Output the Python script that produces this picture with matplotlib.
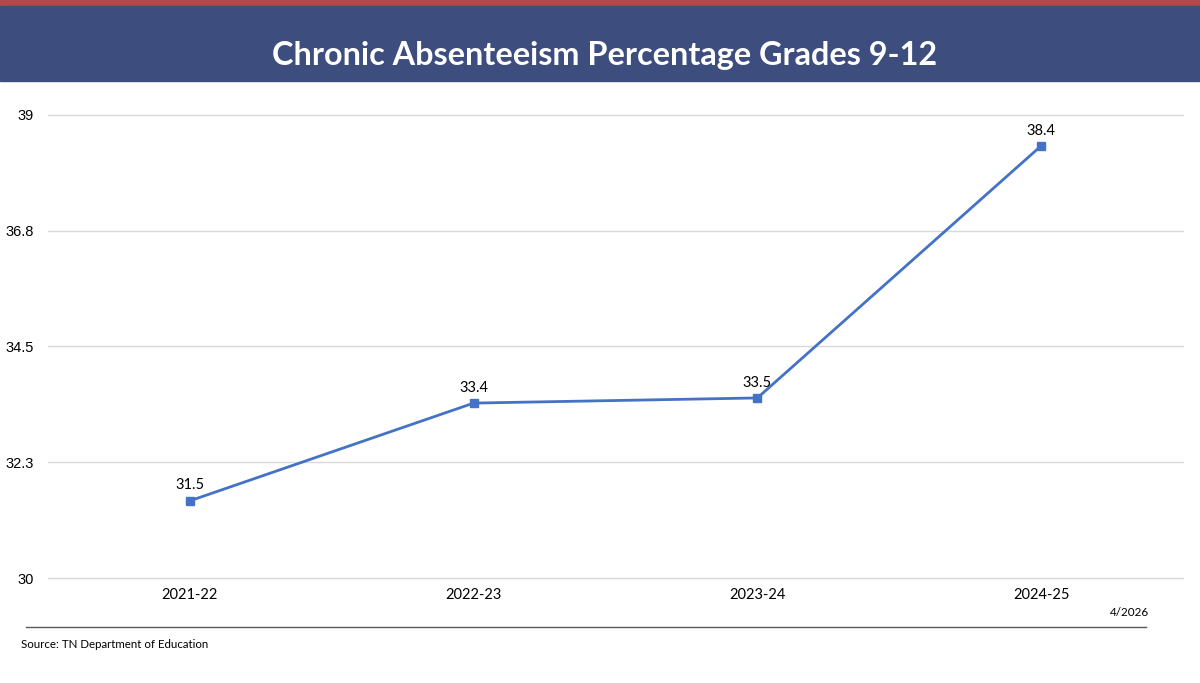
import matplotlib.pyplot as plt
from matplotlib.patches import Rectangle
from matplotlib.lines import Line2D

years = ["2021-22", "2022-23", "2023-24", "2024-25"]
absentee_pct = [31.5, 33.4, 33.5, 38.4]
# axis gridlines are evenly spaced; labels are rounded to one decimal
y_ticks = [30, 32.25, 34.5, 36.75, 39]
y_tick_labels = ["30", "32.3", "34.5", "36.8", "39"]

W, H = 1200, 683
fig = plt.figure(figsize=(12, 6.83), dpi=100)

# header strips
fig.patches.append(Rectangle((0, 1 - 6 / H), 1, 6 / H, transform=fig.transFigure,
                             color="#B04A4A", zorder=0))
fig.patches.append(Rectangle((0, 1 - 81 / H), 1, 75 / H, transform=fig.transFigure,
                             color="#3C4D7E", zorder=0))
fig.text(605 / W, 1 - 56 / H, "Chronic Absenteeism Percentage Grades 9-12",
         ha="center", va="center", color="white", fontsize=23.3,
         fontweight="bold", family="Lato")

ax = fig.add_axes([48 / W, 1 - 578 / H, (1183 - 48) / W, (578 - 115) / H])
x = range(len(years))
ax.plot(x, absentee_pct, color="#4472C4", linewidth=2, marker="s",
        markersize=6, zorder=3)
for xi, v in zip(x, absentee_pct):
    ax.annotate(f"{v}", (xi, v), xytext=(0, 6), textcoords="offset points",
                ha="center", va="bottom", fontsize=10.5, family="Lato")

ax.set_xlim(-0.5, 3.5)
ax.set_ylim(30, 39)
ax.set_yticks(y_ticks)
ax.set_yticklabels(y_tick_labels, family="Liberation Sans", fontsize=10.5)
ax.set_xticks(list(x))
ax.set_xticklabels(years, family="Lato", fontsize=10.5)
ax.grid(axis="y", color="#D9D9D9", linewidth=1)
for gl in ax.get_ygridlines():
    gl.set_clip_on(False)
ax.tick_params(length=0)
ax.tick_params(axis="y", pad=10.5)
ax.tick_params(axis="x", pad=7)
for s in ax.spines.values():
    s.set_visible(False)

# footer
fig.lines.append(Line2D([26 / W, 1146 / W], [1 - 627 / H, 1 - 627 / H],
                        transform=fig.transFigure, color="#595959", linewidth=1))
fig.text(1149 / W, 1 - 612 / H, "4/2026", ha="right", va="center",
         fontsize=8.5, family="Lato")
fig.text(21 / W, 1 - 645 / H, "Source: TN Department of Education",
         ha="left", va="center", fontsize=8.3, family="Lato")

fig.savefig("out.png", dpi=100)
